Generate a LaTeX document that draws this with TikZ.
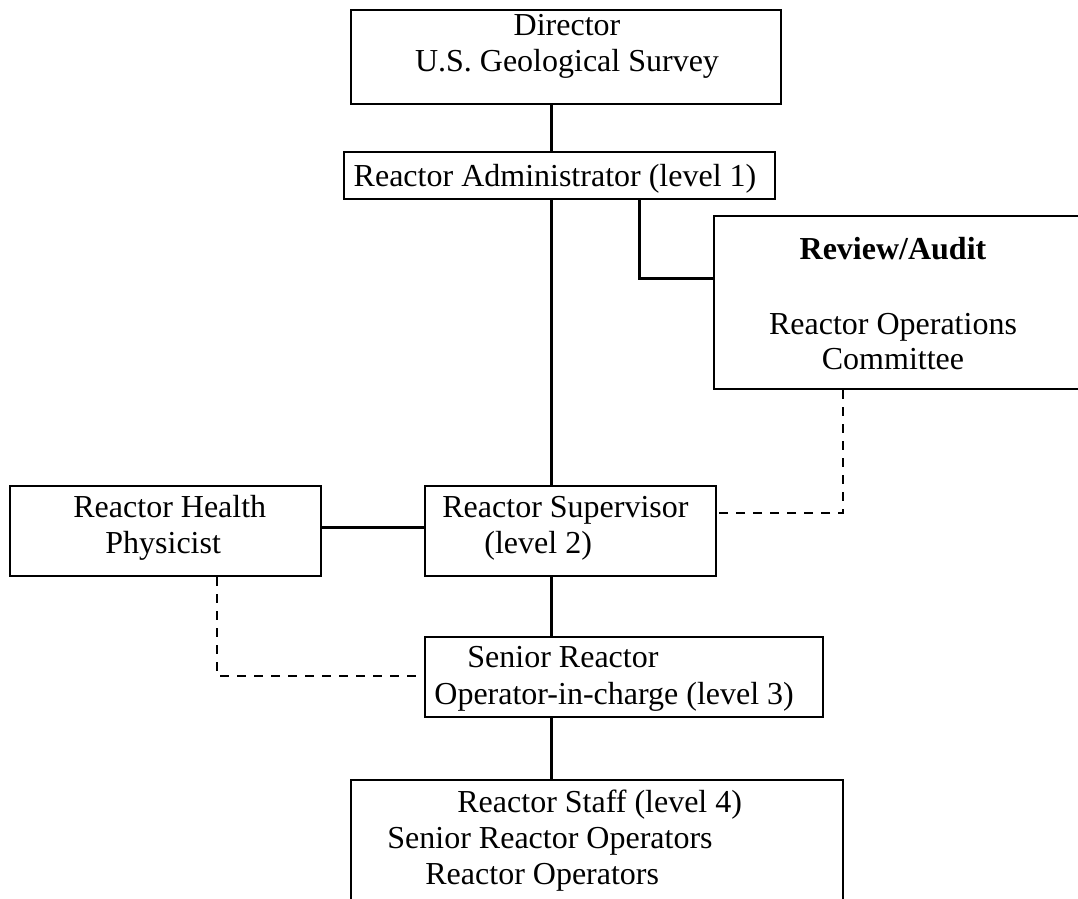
\documentclass[tikz,border=0pt]{standalone}
\usepackage{fontspec}
\setmainfont{Liberation Serif}
\usetikzlibrary{fit}
\begin{document}
\begin{tikzpicture}[x=0.5pt,y=-0.5pt,
  box/.style={draw,line width=1pt,inner sep=0pt},
  txt/.style={inner sep=0pt,font=\fontsize{16pt}{18pt}\selectfont},
  conn/.style={line width=1.5pt},
  dashconn/.style={line width=1pt,dash pattern=on 4.5pt off 4pt}]
\useasboundingbox (0,0) rectangle (1078,899);
\fill[white] (0,0) rectangle (1078,899);
% boxes
\node[box,fit={(351,10) (781,104)}] (dir) {};
\node[box,fit={(344,152) (775,199)}] (adm) {};
\node[box,fit={(714,216) (1095,389)}] (rev) {};
\node[box,fit={(10,486) (321,576)}] (hp) {};
\node[box,fit={(425,486) (716,576)}] (sup) {};
\node[box,fit={(425,637) (823,717)}] (sen) {};
\node[box,fit={(351,780) (843,915)}] (stf) {};
% texts
\node[txt,anchor=base] (tdir1) at (567,36) {Director};
\node[txt,anchor=base] (tdir2) at (567,72) {U.S. Geological Survey};
\node[txt,anchor=base] (tadm) at (555,187) {Reactor Administrator (level 1)};
\node[txt,anchor=base] (trev1) at (893,260) {\bfseries Review/Audit};
\node[txt,anchor=base] (trev2) at (893,335) {Reactor Operations};
\node[txt,anchor=base] (trev3) at (893,370) {Committee};
\node[txt,anchor=base west] (thp1) at (73,517) {Reactor Health};
\node[txt,anchor=base west] (thp2) at (105,553) {Physicist};
\node[txt,anchor=base west] (tsup1) at (442,517) {Reactor Supervisor};
\node[txt,anchor=base west] (tsup2) at (484,553) {(level 2)};
\node[txt,anchor=base west] (tsen1) at (467,667) {Senior Reactor};
\node[txt,anchor=base west] (tsen2) at (434,704) {Operator-in-charge (level 3)};
\node[txt,anchor=base west] (tstf1) at (457,812) {Reactor Staff (level 4)};
\node[txt,anchor=base west] (tstf2) at (387,848) {Senior Reactor Operators};
\node[txt,anchor=base west] (tstf3) at (425,884) {Reactor Operators};
% routing coordinates
\coordinate (spine) at (551,0);
\coordinate (ra) at (639,279);
\coordinate (hs) at (0,527);
\coordinate (rd) at (843,513);
\coordinate (hd) at (217,676);
% solid connectors
\draw[conn] (dir.south -| spine) -- (adm.north -| spine);
\draw[conn] (adm.south -| spine) -- (sup.north -| spine);
\draw[conn] (adm.south -| ra) -- (ra) -- (rev.west |- ra);
\draw[conn] (hp.east |- hs) -- (sup.west |- hs);
\draw[conn] (sup.south -| spine) -- (sen.north -| spine);
\draw[conn] (sen.south -| spine) -- (stf.north -| spine);
% dashed connectors
\draw[dashconn] (rev.south -| rd) -- (rd) -- (sup.east |- rd);
\draw[dashconn] (hp.south -| hd) -- (hd) -- (sen.west |- hd);
\end{tikzpicture}
\end{document}
